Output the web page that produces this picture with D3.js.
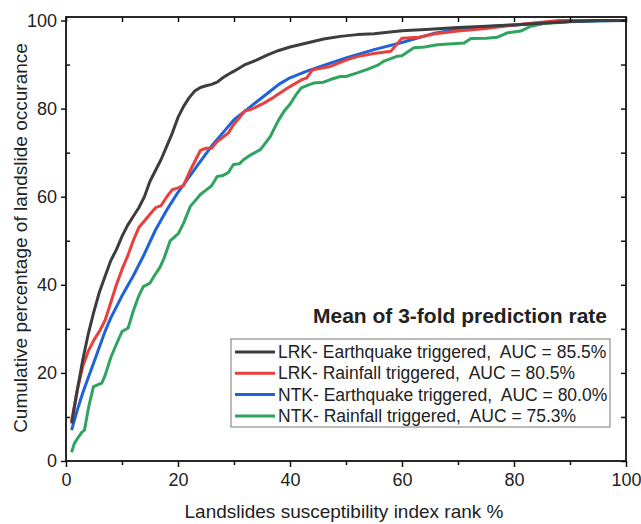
<!DOCTYPE html>
<html lang="en">
<head>
	<meta charset="utf-8">
	<title>Prediction rate curves</title>
	<script src="https://cdn.jsdelivr.net/npm/d3@7"></script>
	<style>
		body { margin: 0; background: #fff; }
		text { font-family: "Liberation Sans", Arial, sans-serif; fill: #222; }
	</style>
</head>
<body>
	<script>
	// x = landslide susceptibility index rank %, y = cumulative % of landslides
	var xLrkEq = [1, 2, 3, 4, 5, 6, 7, 8, 9, 10, 11, 12, 13, 14, 15, 16, 17, 18, 19, 20, 21, 22, 23, 24, 25, 26, 27, 28, 29, 30, 32, 34, 36, 38, 40, 43, 46, 49, 52, 55, 60, 65, 70, 75, 80, 85, 90, 95, 100];
	var yLrkEq = [8.5, 16, 23, 29, 34, 38.5, 42, 45.5, 48, 51, 53.5, 55.5, 57.5, 60, 63.5, 66, 68.5, 71.5, 74.5, 78, 80.5, 82.5, 84, 84.8, 85.2, 85.5, 86, 87, 87.8, 88.5, 90, 91, 92.2, 93.2, 94, 94.9, 95.8, 96.4, 96.8, 97, 97.7, 98, 98.4, 98.7, 99, 99.4, 99.8, 100, 100];

	var xLrkRain = [1, 2, 3, 4, 5, 6, 7, 8, 9, 10, 11, 12, 13, 14, 15, 16, 17, 18, 19, 20, 21, 22, 23, 24, 25, 26, 27, 28, 29, 30, 31, 32, 33, 35, 37, 40, 42, 43, 44, 47, 50, 52, 55, 58, 60, 63, 66, 70, 75, 80, 84, 88, 100];
	var yLrkRain = [9, 16, 21.5, 25, 27.5, 29.5, 32, 36, 40, 43.5, 46.5, 50, 53, 54.5, 56, 57.5, 58, 60, 61.6, 62, 62.5, 65.5, 68, 70.5, 71, 71, 72.5, 73.5, 74.5, 76.5, 78, 79.5, 79.8, 81, 82.5, 85, 86.5, 87, 88.8, 89.5, 91, 91.8, 92.5, 93, 96, 96.2, 97, 97.6, 98.2, 99, 99.5, 100, 100];

	var xNtkEq = [1, 2, 3, 4, 5, 6, 7, 8, 9, 10, 12, 14, 16, 18, 20, 22, 24, 26, 28, 30, 32, 34, 36, 38, 40, 43, 46, 50, 55, 60, 66, 70, 75, 80, 85, 90, 100];
	var yNtkEq = [7, 11.5, 15.5, 19, 22.5, 26, 29.5, 32.5, 35, 37.5, 42, 47, 52.5, 57, 61, 64.5, 68, 71.5, 74.5, 77.5, 79.5, 81.5, 83.5, 85.5, 87, 88.5, 89.8, 91.5, 93.4, 95, 97.2, 98, 98.6, 99, 99.5, 99.8, 100];

	var xNtkRain = [1, 1.5, 2, 2.8, 3.3, 4, 4.9, 5.5, 6.4, 7, 8, 9, 10, 11.1, 12, 13, 13.8, 15, 16, 16.8, 17.5, 18.6, 20.1, 21, 22.2, 23, 24, 25, 26, 27, 28, 29, 29.9, 31, 31.7, 33, 34.7, 35.5, 36.5, 37, 38, 39, 40, 41, 42, 43, 44.2, 46, 47.2, 49, 50, 52, 53.8, 55.6, 56.8, 59.2, 60, 62.1, 64, 66.3, 71.1, 72.3, 75, 77, 78.8, 81.2, 83, 85.3, 90, 95, 100];
	var yNtkRain = [2, 4, 5, 6.5, 7, 12, 16.9, 17.2, 17.7, 19.5, 23.5, 26.5, 29.4, 30.2, 34, 37.5, 39.6, 40.4, 42.5, 44, 46, 50, 51.7, 54, 57.8, 59, 60.5, 61.5, 62.5, 64.6, 64.8, 65.5, 67.3, 67.5, 68.4, 69.5, 70.7, 72, 73.7, 75, 77.5, 79.5, 81, 83, 84.7, 85.2, 85.8, 86, 86.6, 87.3, 87.3, 88.1, 88.9, 89.8, 90.8, 91.9, 92, 93.8, 94, 94.5, 94.9, 95.9, 96, 96.2, 97.2, 97.6, 98.7, 99.3, 99.7, 100, 100];

	var seriesNames = ["LRK- Earthquake triggered,  AUC = 85.5%", "LRK- Rainfall triggered,  AUC = 80.5%", "NTK- Earthquake triggered,  AUC = 80.0%", "NTK- Rainfall triggered,  AUC = 75.3%"];
	var seriesColors = ["#3d3d3d", "#e8403e", "#1f63d8", "#2fa45e"];
	var xTicks = [0, 20, 40, 60, 80, 100];
	var yTicks = [0, 20, 40, 60, 80, 100];

	var w = 641, h = 524;
	// plot box edges (not named top/left: window.top is read-only)
	var x0 = 66, x1 = 626, y0 = 461, y1 = 17;

	var svg = d3.select("body").append("svg")
		.attr("width", w)
		.attr("height", h);

	var x = d3.scaleLinear().domain([0, 100]).range([x0, x1]);
	var y = d3.scaleLinear().domain([0, 100.8]).range([y0, y1]);

	var series = [
		{ xs: xLrkEq, ys: yLrkEq },
		{ xs: xLrkRain, ys: yLrkRain },
		{ xs: xNtkEq, ys: yNtkEq },
		{ xs: xNtkRain, ys: yNtkRain }
	];

	var line = d3.line()
		.x(function(d) { return x(d[0]); })
		.y(function(d) { return y(d[1]); });

	// curves, drawn green first so black ends up on top
	[3, 2, 1, 0].forEach(function(i) {
		var pts = series[i].xs.map(function(v, j) { return [v, series[i].ys[j]]; });
		svg.append("path")
			.datum(pts)
			.attr("d", line)
			.attr("fill", "none")
			.attr("stroke", seriesColors[i])
			.attr("stroke-width", 3)
			.attr("stroke-linejoin", "round");
	});

	var minor = [10, 30, 50, 70, 90];
	var every10 = d3.range(0, 101, 10);

	// bottom axis: major outward with labels, minor outward short
	svg.append("g")
		.attr("transform", "translate(0," + y0 + ")")
		.call(d3.axisBottom(x).tickValues(xTicks).tickSize(6).tickSizeOuter(0).tickPadding(6));
	svg.append("g")
		.attr("transform", "translate(0," + y0 + ")")
		.call(d3.axisBottom(x).tickValues(minor).tickSize(4).tickSizeOuter(0).tickFormat(""));

	// left axis: major outward, minor inward
	svg.append("g")
		.attr("transform", "translate(" + x0 + ",0)")
		.call(d3.axisLeft(y).tickValues(yTicks).tickSize(5).tickSizeOuter(0).tickPadding(4));
	svg.append("g")
		.attr("transform", "translate(" + x0 + ",0)")
		.call(d3.axisRight(y).tickValues(minor).tickSize(4).tickSizeOuter(0).tickFormat(""));

	// top and right mirror ticks pointing inward
	svg.append("g")
		.attr("transform", "translate(0," + y1 + ")")
		.call(d3.axisBottom(x).tickValues(every10).tickSize(5).tickSizeOuter(0).tickFormat(""));
	svg.append("g")
		.attr("transform", "translate(" + x1 + ",0)")
		.call(d3.axisLeft(y).tickValues(every10).tickSize(5).tickSizeOuter(0).tickFormat(""));

	svg.selectAll(".domain").remove();
	svg.selectAll(".tick line").attr("stroke", "#111").attr("stroke-width", 1.5);
	svg.selectAll(".tick text").style("font-size", "18px").attr("fill", "#222");

	// frame
	svg.append("rect")
		.attr("x", x0).attr("y", y1)
		.attr("width", x1 - x0).attr("height", y0 - y1)
		.attr("fill", "none")
		.attr("stroke", "#111")
		.attr("stroke-width", 1.8);

	// axis titles
	svg.append("text")
		.attr("x", 344).attr("y", 518)
		.attr("text-anchor", "middle")
		.style("font-size", "19px")
		.text("Landslides susceptibility index rank %");

	svg.append("text")
		.attr("text-anchor", "middle")
		.attr("transform", "translate(27,238) rotate(-90)")
		.style("font-size", "19px")
		.text("Cumulative percentage of landslide occurance");

	// legend
	svg.append("text")
		.attr("x", 607).attr("y", 323)
		.attr("text-anchor", "end")
		.style("font-size", "21px")
		.style("font-weight", "bold")
		.attr("fill", "#111")
		.text("Mean of 3-fold prediction rate");

	svg.append("rect")
		.attr("x", 231).attr("y", 339)
		.attr("width", 379).attr("height", 88)
		.attr("fill", "#fff")
		.attr("stroke", "#777")
		.attr("stroke-width", 1);

	var rows = svg.selectAll(".leg")
		.data(seriesNames)
		.enter().append("g")
		.attr("class", "leg")
		.attr("transform", function(d, i) { return "translate(235," + (352 + i * 21.3) + ")"; });

	rows.append("line")
		.attr("x1", 0).attr("x2", 40)
		.attr("y1", 0).attr("y2", 0)
		.attr("stroke", function(d, i) { return seriesColors[i]; })
		.attr("stroke-width", 3);

	rows.append("text")
		.attr("x", 43).attr("y", 6)
		.style("font-size", "17.5px")
		.style("white-space", "pre")
		.text(function(d) { return d; });
	</script>
</body>
</html>
